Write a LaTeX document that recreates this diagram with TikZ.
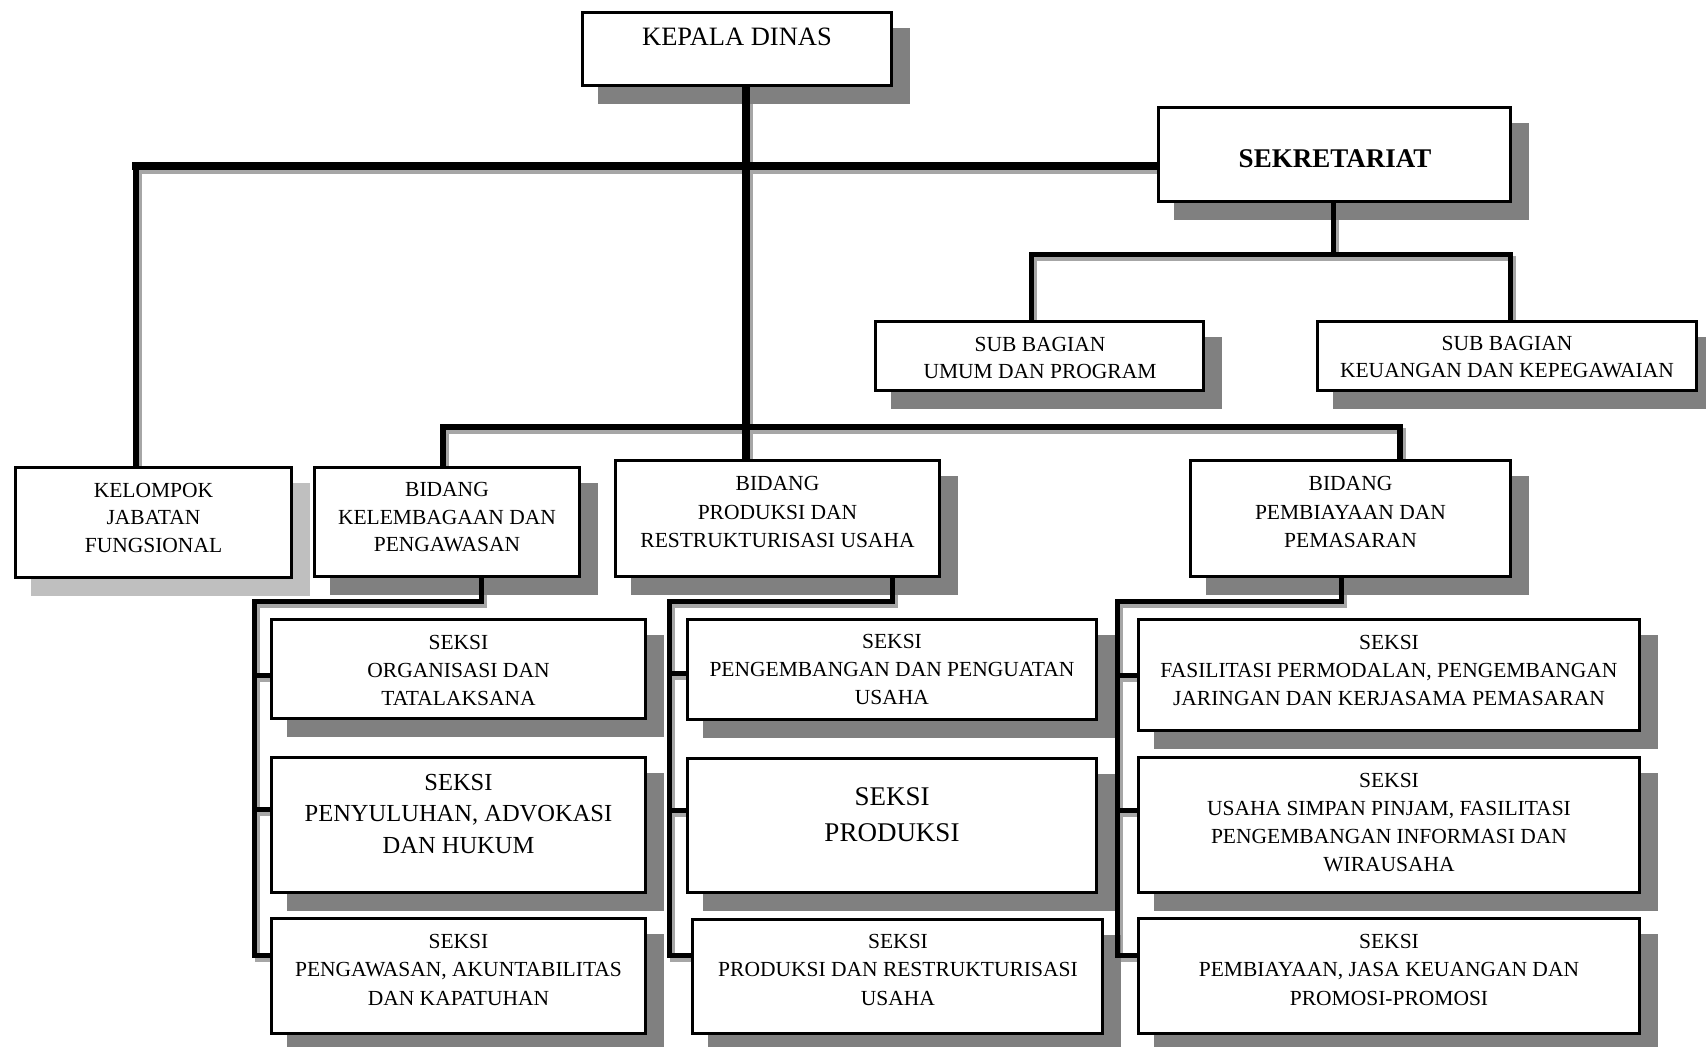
\documentclass[tikz,border=0pt]{standalone}
\usepackage{fontspec}
\setmainfont{Liberation Serif}
\usetikzlibrary{calc}
\pgfdeclarelayer{lshadow}
\pgfdeclarelayer{bshadow}
\pgfdeclarelayer{lines}
\pgfsetlayers{lshadow,bshadow,lines,main}
\tikzset{
  box/.style={draw=black, line width=2.6pt, fill=white, inner sep=0pt, rectangle},
  lbl/.style={align=center, inner sep=0pt, font=\fontsize{21.5}{28}\selectfont},
}
\newcommand\mybox[5]{\node[box, minimum width={#4-#2-2.6}, minimum height={#5-#3-2.6}] (#1) at ({(#2+#4)/2},{(#3+#5)/2}) {};}
\newcommand\myconn[2]{%
  \begin{pgfonlayer}{lshadow}\draw[line width=#1, black!35, line cap=rect, transform canvas={shift={(3pt,-4pt)}}] #2;\end{pgfonlayer}%
  \begin{pgfonlayer}{lines}\draw[line width=#1, black, line cap=rect] #2;\end{pgfonlayer}}
\begin{document}
\begin{tikzpicture}[x=1pt,y=-1pt]
\useasboundingbox (0,0) rectangle (1706,1047);
% boxes
\mybox{kd}{581}{11}{893}{87}
\mybox{sek}{1157}{106}{1512}{203}
\mybox{sbu}{874}{320}{1205}{392}
\mybox{sbk}{1316}{320}{1698}{392}
\mybox{kjf}{14}{466}{293}{579}
\mybox{bkp}{313}{466}{581}{578}
\mybox{bpr}{614}{459}{941}{578}
\mybox{bpm}{1189}{459}{1512}{578}
\mybox{s11}{270}{618}{647}{720}
\mybox{s12}{270}{756}{647}{894}
\mybox{s13}{270}{917}{647}{1035}
\mybox{s21}{686}{618}{1098}{721}
\mybox{s22}{686}{757}{1098}{894}
\mybox{s23}{691}{918}{1104}{1035}
\mybox{s31}{1137}{618}{1641}{732}
\mybox{s32}{1137}{756}{1641}{894}
\mybox{s33}{1137}{917}{1641}{1035}
% box shadows
\begin{pgfonlayer}{bshadow}
\foreach \n in {kd,sek,sbu,sbk,bkp,bpr,bpm,s11,s12,s13,s21,s22,s23,s31,s32,s33}
  \fill[black!50] ($(\n.south west)+(17,17)$) rectangle ($(\n.north east)+(17,17)$);
\fill[black!25] ($(kjf.south west)+(17,17)$) rectangle ($(kjf.north east)+(17,17)$);
\end{pgfonlayer}
% texts
\node[lbl, font=\fontsize{26.5}{30}\selectfont] (kd-t) at (737,37) {KEPALA DINAS};
\node[lbl, font=\fontsize{27}{30}\selectfont\bfseries] (sek-t) at (1335,159) {SEKRETARIAT};
\node[lbl, font=\fontsize{21.5}{27}\selectfont] (sbu-t) at (1040,357.5) {SUB BAGIAN\\UMUM DAN PROGRAM};
\node[lbl, font=\fontsize{21.5}{27}\selectfont] (sbk-t) at (1507,357.5) {SUB BAGIAN\\KEUANGAN DAN KEPEGAWAIAN};
\node[lbl, font=\fontsize{21.5}{27.5}\selectfont] (kjf-t) at (153.5,517.5) {KELOMPOK\\JABATAN\\FUNGSIONAL};
\node[lbl, font=\fontsize{21.5}{27.5}\selectfont] (bkp-t) at (447,517.5) {BIDANG\\KELEMBAGAAN DAN\\PENGAWASAN};
\node[lbl, font=\fontsize{21.5}{28.5}\selectfont] (bpr-t) at (777.5,512) {BIDANG\\PRODUKSI DAN\\RESTRUKTURISASI USAHA};
\node[lbl, font=\fontsize{21.5}{28.5}\selectfont] (bpm-t) at (1350.5,512) {BIDANG\\PEMBIAYAAN DAN\\PEMASARAN};
\node[lbl] (s11-t) at (458.5,670) {SEKSI\\ORGANISASI DAN\\TATALAKSANA};
\node[lbl, font=\fontsize{24.5}{31.5}\selectfont] (s12-t) at (458.5,813.5) {SEKSI\\PENYULUHAN, ADVOKASI\\DAN HUKUM};
\node[lbl, font=\fontsize{21.5}{28.5}\selectfont] (s13-t) at (458.5,969.5) {SEKSI\\PENGAWASAN, AKUNTABILITAS\\DAN KAPATUHAN};
\node[lbl] (s21-t) at (892,669.5) {SEKSI\\PENGEMBANGAN DAN PENGUATAN\\USAHA};
\node[lbl, font=\fontsize{27}{36}\selectfont] (s22-t) at (892,815) {SEKSI\\PRODUKSI};
\node[lbl, font=\fontsize{21.5}{28.5}\selectfont] (s23-t) at (898,969.5) {SEKSI\\PRODUKSI DAN RESTRUKTURISASI\\USAHA};
\node[lbl] (s31-t) at (1389,670) {SEKSI\\FASILITASI PERMODALAN, PENGEMBANGAN\\JARINGAN DAN KERJASAMA PEMASARAN};
\node[lbl, font=\fontsize{21.5}{28.3}\selectfont] (s32-t) at (1389,822.5) {SEKSI\\USAHA SIMPAN PINJAM, FASILITASI\\PENGEMBANGAN INFORMASI DAN\\WIRAUSAHA};
\node[lbl, font=\fontsize{21.5}{28.5}\selectfont] (s33-t) at (1389,969.5) {SEKSI\\PEMBIAYAAN, JASA KEUANGAN DAN\\PROMOSI-PROMOSI};
% junction coordinates
\coordinate (tj) at (746,166);
\coordinate (kv) at (136,166);
\coordinate (bl) at (443,426.5);
\coordinate (br) at (1400,426.5);
\coordinate (sj) at (1333,254.6);
\coordinate (sl) at (1031,254.6);
\coordinate (sr) at (1510,254.6);
\coordinate (c1a) at (481,601);
\coordinate (c1b) at (254,601);
\coordinate (c1c) at (254,955);
\coordinate (c1s1) at (254,675);
\coordinate (c1s2) at (254,809);
\coordinate (c2a) at (892,601);
\coordinate (c2b) at (669,601);
\coordinate (c2c) at (669,955);
\coordinate (c2s1) at (669,673);
\coordinate (c2s2) at (669,810);
\coordinate (c3a) at (1341,601);
\coordinate (c3b) at (1117,601);
\coordinate (c3c) at (1117,955);
\coordinate (c3s1) at (1117,675);
\coordinate (c3s2) at (1117,810);
% connectors
\myconn{6pt}{(kjf.north -| kv) -- (kv)}
\myconn{6pt}{(bkp.north -| bl) -- (bl) -- (br) -- (bpm.north -| br)}
\myconn{8pt}{(kv) -- (sek.west |- tj)}
\myconn{8pt}{(kd.south -| tj) -- (bpr.north -| tj)}
\myconn{5pt}{(sek.south -| sj) -- (sj)}
\myconn{5pt}{(sbu.north -| sl) -- (sl) -- (sr) -- (sbk.north -| sr)}
\myconn{5pt}{(bkp.south -| c1a) -- (c1a) -- (c1b) -- (c1c) -- (s13.west |- c1c)}
\myconn{5pt}{(c1s1) -- (s11.west |- c1s1)}
\myconn{5pt}{(c1s2) -- (s12.west |- c1s2)}
\myconn{5pt}{(bpr.south -| c2a) -- (c2a) -- (c2b) -- (c2c) -- (s23.west |- c2c)}
\myconn{5pt}{(c2s1) -- (s21.west |- c2s1)}
\myconn{5pt}{(c2s2) -- (s22.west |- c2s2)}
\myconn{5pt}{(bpm.south -| c3a) -- (c3a) -- (c3b) -- (c3c) -- (s33.west |- c3c)}
\myconn{5pt}{(c3s1) -- (s31.west |- c3s1)}
\myconn{5pt}{(c3s2) -- (s32.west |- c3s2)}
\end{tikzpicture}
\end{document}
